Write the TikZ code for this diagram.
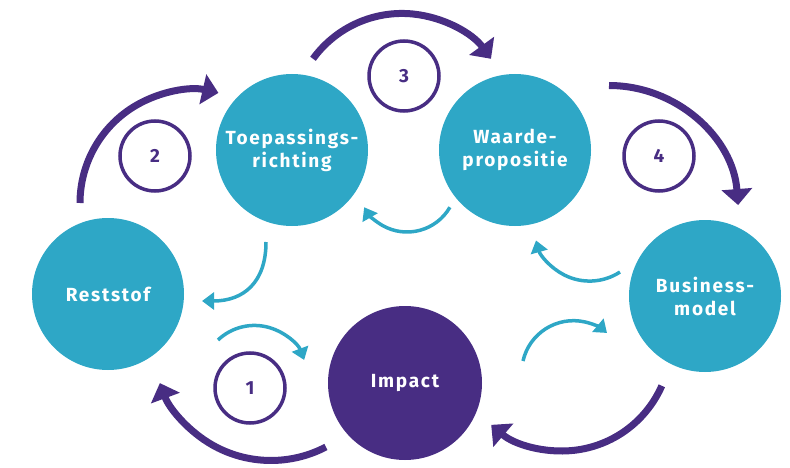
\documentclass[tikz,border=0pt]{standalone}
\usepackage{fontspec}
\usetikzlibrary{arrows.meta}
\newfontfamily\labfont{Fira Sans}[LetterSpace=9]
\definecolor{cteal}{HTML}{2EA7C6}
\definecolor{cpurple}{HTML}{482D83}
\begin{document}
\begin{tikzpicture}[x=1pt,y=-1pt,
  phase/.style={circle, fill=cteal, minimum size=#1, inner sep=0pt,
    text=white, align=center, font=\labfont\bfseries\fontsize{19}{23}\selectfont},
  phase/.default=152pt,
  hub/.style={phase=154pt, fill=cpurple},
  numring/.style={circle, draw=cpurple, line width=3.5pt, minimum size=70pt,
    inner sep=0pt, text=cpurple, font=\labfont\bfseries\fontsize{19}{21}\selectfont},
  bigflow/.style={draw=cpurple, line width=7pt,
    -{Triangle[length=16pt,width=30pt]}},
  smallflow/.style={draw=cteal, line width=3.5pt,
    -{Triangle[length=12pt,width=17pt]}}]
\useasboundingbox (0,0) rectangle (790,468);

% main circles
\node[phase] (rest) at (108,294) {Reststof};
\node[phase] (toep) at (292,150) {Toepassings-\\richting};
\node[phase] (waarde) at (515,150) {Waarde-\\propositie};
\node[phase] (bm) at (705,296) {Business-\\model};
\node[hub] (impact) at (405,383) {Impact};

% step numbers
\node[numring] (n1) at (250,388) {1};
\node[numring] (n2) at (155,156) {2};
\node[numring] (n3) at (404,76) {3};
\node[numring] (n4) at (659,156) {4};

% start points of the flows
\coordinate (p2) at (80,203);
\coordinate (p3) at (313,58.8);
\coordinate (p4) at (609,85.5);
\coordinate (p1) at (325.9,447);
\coordinate (p5) at (661.8,385.8);
\coordinate (qa) at (266,242);
\coordinate (qb) at (449.9,207.25);
\coordinate (qc) at (620,272);
\coordinate (qd) at (218,340);
\coordinate (qe) at (523,361);

% main cycle (purple)
\draw[bigflow] (p2) arc[start angle=180, end angle=283, radius=113];
\draw[bigflow] (p3) arc[start angle=-144, end angle=-36, radius=110];
\draw[bigflow] (p4) arc[start angle=-90, end angle=-4.4, radius=129.5];
\draw[bigflow] (p5) arc[start angle=23.7, end angle=130.5, radius=109];
\draw[bigflow] (p1) arc[start angle=62.4, end angle=159.7, radius=118.5];

% feedback flows (teal)
\draw[smallflow] (qa) .. controls (266,282) and (244,301) .. (202,301);
\draw[smallflow] (qb) arc[start angle=30, end angle=150, radius=49.5];
\draw[smallflow] (qc) arc[start angle=56.8, end angle=164.4, radius=55.6];
\draw[smallflow] (qd) arc[start angle=-133.5, end angle=-20.4, radius=53];
\draw[smallflow] (qe) arc[start angle=-167.2, end angle=-49.7, radius=51.8];
\end{tikzpicture}
\end{document}
